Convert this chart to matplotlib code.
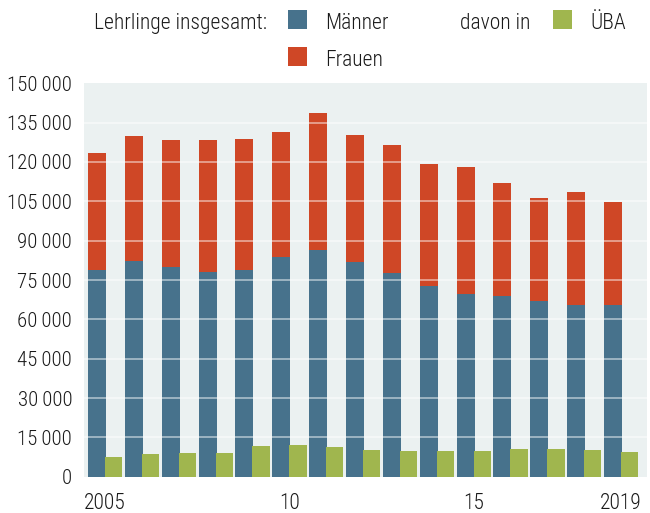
import matplotlib
matplotlib.use("Agg")
import matplotlib.pyplot as plt
from matplotlib import font_manager
from matplotlib.patches import Rectangle

# ---- data ----
years = list(range(2005, 2020))
maenner = [78900, 82200, 80000, 78200, 78900, 83800, 86600, 82000, 77700, 72800, 69800, 69000, 67000, 65500, 65500]
frauen = [44600, 47800, 48400, 50200, 49900, 47700, 52100, 48300, 48800, 46500, 48300, 43000, 39300, 43100, 39300]
uba = [7500, 8700, 9000, 9000, 11700, 12100, 11300, 10200, 9800, 9800, 9800, 10600, 10600, 10200, 9400]
xtick_years = [2005, 2010, 2015, 2019]
xtick_labels = ["2005", "10", "15", "2019"]
yticks = list(range(0, 150001, 15000))

# ---- style ----
C_BLUE = "#47728C"
C_RED = "#CF4726"
C_GREEN = "#A0B64E"
C_BG = "#EBF1F1"
C_TEXT = "#1A1A1A"


def pick_font():
    for name in ["Roboto Condensed", "Liberation Sans Narrow", "Open Sans Condensed"]:
        try:
            font_manager.findfont(font_manager.FontProperties(family=name), fallback_to_default=False)
            return name
        except Exception:
            pass
    return "DejaVu Sans"


FONT = pick_font()
plt.rcParams["font.family"] = [FONT, "DejaVu Sans"]
plt.rcParams["font.weight"] = "light"
FS = 15
FS_LEG = 15.5

W, H = 650, 513
fig = plt.figure(figsize=(W / 100, H / 100), dpi=100)
fig.patch.set_facecolor("white")

ax_l, ax_r, ax_t, ax_b = 84, 647.3, 83.3, 476.7
ax = fig.add_axes([ax_l / W, 1 - ax_b / H, (ax_r - ax_l) / W, (ax_b - ax_t) / H])
ax.set_facecolor(C_BG)

x = list(range(len(years)))
bw = 0.488
gw = 0.467
goff = 0.217

ax.bar(x, maenner, width=bw, color=C_BLUE, zorder=2, linewidth=0)
ax.bar(x, frauen, bottom=maenner, width=bw, color=C_RED, zorder=2, linewidth=0)
ax.bar([i + goff for i in x], uba, width=gw, align="edge", color=C_GREEN, zorder=3, linewidth=0)

for yv in yticks[1:-1]:
    ax.axhline(yv, color="white", lw=1.3, alpha=0.5, zorder=4)

ax.set_xlim(-0.353, 14.93)
ax.set_ylim(0, 150000)
ax.set_yticks(yticks)
ax.set_yticklabels([f"{v:,}".replace(",", "\u2009") for v in yticks], fontsize=FS, color=C_TEXT)
ax.set_xticks([years.index(yv) + 0.22 for yv in xtick_years])
ax.set_xticklabels(xtick_labels, fontsize=FS_LEG, color=C_TEXT)
ax.tick_params(axis="y", length=0, pad=8.5)
ax.tick_params(axis="x", length=0, pad=11.5)
for s in ax.spines.values():
    s.set_visible(False)

# ---- legend (figure pixel coordinates from top-left) ----
def fx(px):
    return px / W


def fy(py):
    return 1 - py / H


def square(x0, y0, color, size=19):
    fig.patches.append(Rectangle((fx(x0), fy(y0 + size)), size / W, size / H,
                                 transform=fig.transFigure, color=color, linewidth=0))


square(287.5, 10, C_BLUE)
square(287.5, 47, C_RED)
square(553, 10, C_GREEN)
fig.text(fx(266.6), fy(29), "Lehrlinge insgesamt:", ha="right", va="baseline", fontsize=FS_LEG, color=C_TEXT)
fig.text(fx(325), fy(29), "Männer", ha="left", va="baseline", fontsize=FS_LEG, color=C_TEXT)
fig.text(fx(325), fy(66), "Frauen", ha="left", va="baseline", fontsize=FS_LEG, color=C_TEXT)
fig.text(fx(460), fy(29), "davon in", ha="left", va="baseline", fontsize=FS_LEG, color=C_TEXT)
fig.text(fx(590.5), fy(29), "ÜBA", ha="left", va="baseline", fontsize=FS_LEG, color=C_TEXT)

fig.savefig("out.png", dpi=100, facecolor="white")
